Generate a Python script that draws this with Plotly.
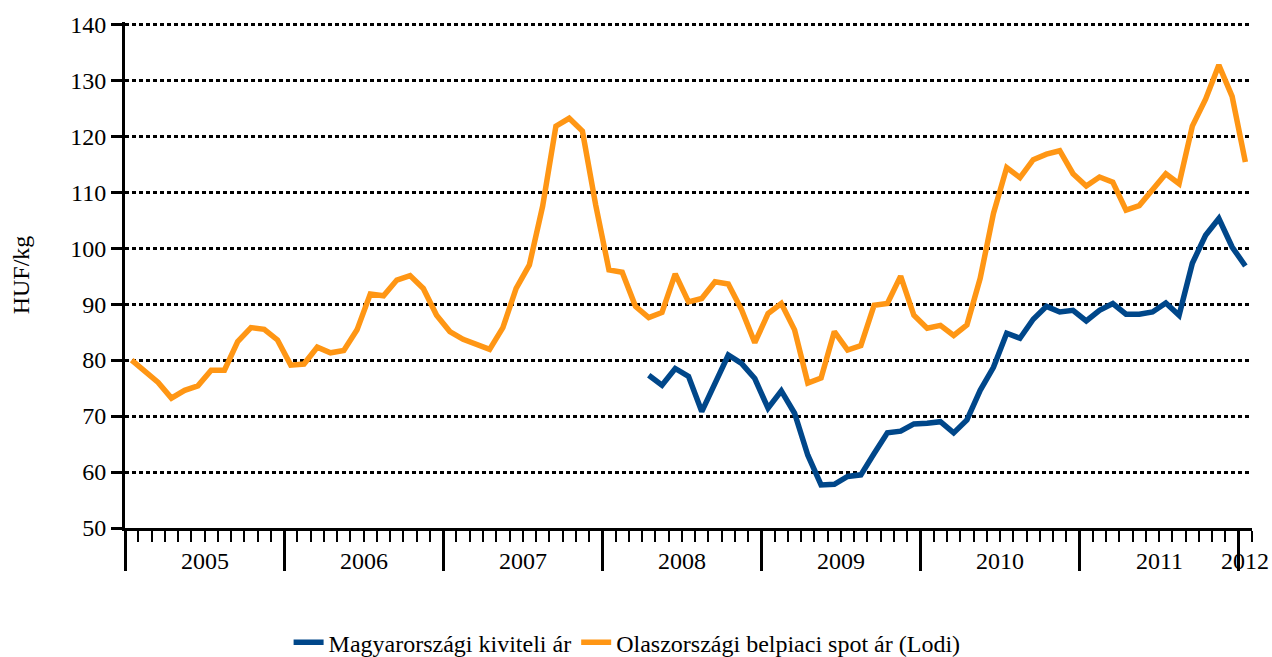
import plotly.graph_objects as go

# Monthly categories Jan 2005 .. Jan 2012
years = [2005, 2006, 2007, 2008, 2009, 2010, 2011, 2012]
months = [f"{y}-{m:02d}" for y in years[:-1] for m in range(1, 13)] + ["2012-01"]

orange = [80.0, 78.0, 76.0, 73.2, 74.6, 75.4, 78.2, 78.2, 83.3, 85.8, 85.5, 83.6,
          79.1, 79.3, 82.3, 81.3, 81.7, 85.4, 91.8, 91.5, 94.3, 95.1, 92.8, 88.0,
          85.1, 83.7, 82.7, 81.9, 85.8, 92.8, 97.0, 107.5, 121.8, 123.2, 120.9, 107.7,
          96.1, 95.7, 89.6, 87.6, 88.5, 95.4, 90.4, 91.0, 94.0, 93.6, 89.0, 83.1,
          88.3, 90.1, 85.4, 75.9, 76.8, 85.1, 81.8, 82.6, 89.8, 90.1, 95.0, 88.0,
          85.7, 86.2, 84.4, 86.3, 94.6, 106.2, 114.4, 112.6, 115.8, 116.8, 117.4, 113.3,
          111.1, 112.7, 111.8, 106.8, 107.6, 110.4, 113.3, 111.5, 121.8, 126.6, 132.7, 127.1,
          115.4]

blue = [None] * 39 + [77.3, 75.5, 78.5, 77.1, 70.8, 75.8, 80.9, 79.4, 76.7,
                      71.4, 74.5, 70.5, 63.0, 57.7, 57.8, 59.2, 59.5, 63.3, 67.0, 67.3, 68.6,
                      68.7, 69.0, 67.0, 69.3, 74.6, 78.7, 84.8, 83.9, 87.3, 89.6, 88.6, 88.9,
                      87.0, 88.9, 90.1, 88.2, 88.2, 88.6, 90.2, 88.0, 97.3, 102.3, 105.3, 100.2,
                      96.8]

series_names = ["Magyarországi kiviteli ár", "Olaszországi belpiaci spot ár (Lodi)"]
y_ticks = [50, 60, 70, 80, 90, 100, 110, 120, 130, 140]

FONT = "Liberation Serif, Times New Roman, serif"
x = list(range(len(months)))

fig = go.Figure()
fig.add_trace(go.Scatter(x=x, y=blue, mode="lines", name=series_names[0],
                         line=dict(color="#00478A", width=5.5)))
fig.add_trace(go.Scatter(x=x, y=orange, mode="lines", name=series_names[1],
                         line=dict(color="#FF9614", width=5.5)))

# year boundaries (long ticks) and year label positions
year_starts = [months.index(f"{y}-01") for y in years]
boundaries = [s - 0.5 for s in year_starts]
annotations = []
for k, y in enumerate(years):
    start = year_starts[k]
    end = year_starts[k + 1] if k + 1 < len(years) else len(months)
    annotations.append(dict(x=(start + end - 1) / 2, y=-0.066, xref="x", yref="paper",
                            text=str(y), showarrow=False, yanchor="middle",
                            font=dict(family=FONT, size=24, color="black")))

fig.update_layout(
    width=1272, height=657,
    margin=dict(l=125, r=20, t=22, b=129, autoexpand=False),
    plot_bgcolor="white", paper_bgcolor="white",
    font=dict(family=FONT, size=24, color="black"),
    showlegend=True,
    legend=dict(orientation="h", xref="container", yref="container",
                x=0.493, xanchor="center", y=0.022, yanchor="middle",
                font=dict(family=FONT, size=24, color="black"),
                itemwidth=30, tracegroupgap=0),
    annotations=annotations,
)

fig.update_xaxes(
    range=[-0.5, len(months) - 0.5],
    automargin=False,
    showgrid=False, zeroline=False,
    showline=True, linecolor="black", linewidth=3,
    tickmode="array", tickvals=boundaries, ticktext=["" for _ in boundaries],
    ticks="outside", ticklen=40, tickwidth=2.5, tickcolor="black",
    minor=dict(ticks="outside", ticklen=11, tickwidth=2, tickcolor="black",
               tickmode="linear", tick0=-0.5, dtick=1, showgrid=False),
)

fig.update_yaxes(
    range=[50, 140.4],
    automargin=False,
    tickmode="array", tickvals=y_ticks,
    showgrid=True, gridcolor="black", gridwidth=3, griddash="4px,3px",
    zeroline=False,
    showline=True, linecolor="black", linewidth=3,
    ticks="outside", ticklen=11, tickwidth=2.5, tickcolor="black",
    tickfont=dict(family=FONT, size=24, color="black"),
    title=dict(text="HUF/kg", font=dict(family=FONT, size=24, color="black"), standoff=34),
)

fig.write_html("out.html", config={"displayModeBar": False},
               post_script="document.body.style.margin='0';document.body.style.padding='0';")
